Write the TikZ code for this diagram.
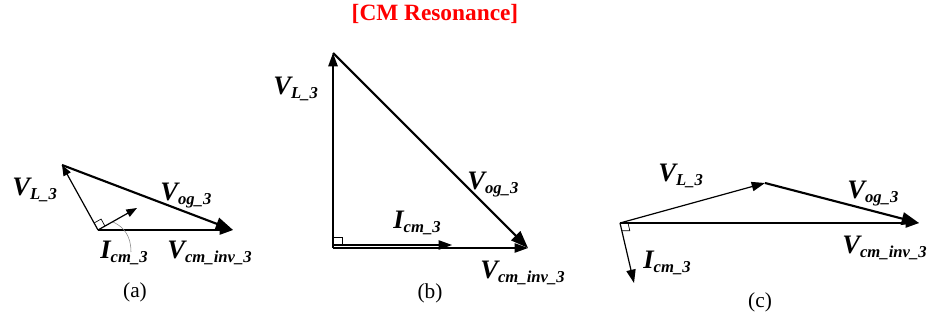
\documentclass[tikz,border=0pt]{standalone}
\usepackage{fontspec}
\setmainfont{Liberation Serif}
\usepackage{xcolor}
\usetikzlibrary{positioning, calc, arrows.meta}

\newcommand{\vname}[2]{#1\raisebox{-2.5pt}{\fontsize{12.5}{12.5}\selectfont #2}}

\tikzset{
  vec/.style={line width=0.9pt, -{Triangle[length=10pt,width=7pt]}},
  bigvec/.style={line width=1.6pt, -{Triangle[length=13pt,width=9.5pt]}},
  lbl/.style={anchor=base west, inner sep=0pt, font=\fontsize{20}{20}\selectfont\bfseries\itshape},
  partlbl/.style={font=\fontsize{16}{16}\selectfont},
  rmark/.style={line width=0.5pt}
}

\begin{document}
\begin{tikzpicture}[x=0.75pt, y=-0.75pt]
  \useasboundingbox (0,0) rectangle (930,323);

  \node[text=red, font=\fontsize{17.5}{17.5}\selectfont\bfseries] (title) at (435,14) {[CM Resonance]};

  % (a)
  \coordinate (Oa) at (98,230);
  \coordinate (La) at (62,165);
  \coordinate (Ca) at (233,230);
  \coordinate (Ia) at (137,208);
  \draw[vec] (Oa) -- (Ca);
  \draw[line width=0.9pt, -{Triangle[length=8pt,width=6pt]}] (Oa) -- (La);
  \draw[bigvec] (La) -- (Ca);
  \draw[line width=0.9pt, -{Triangle[length=8pt,width=6pt]}] (Oa) -- (Ia);
  \draw[rmark] ($(Oa)!6pt!(La)$) -- ($($(Oa)!6pt!(La)$)+($(Oa)!6pt!(Ia)$)-(Oa)$) -- ($(Oa)!6pt!(Ia)$);
  \node[lbl] (vla) at (12,196) {\vname{V}{L\_3}};
  \node[lbl] (voga) at (160,201) {\vname{V}{og\_3}};
  \node[lbl] (icma) at (100,259) {\vname{I}{cm\_3}};
  \node[lbl] (vcma) at (167,259) {\vname{V}{cm\_inv\_3}};
  \coordinate (arcend) at (113,222);
  \draw[gray, line width=0.4pt] (131,252) .. controls (131,236) and (124,227) .. (arcend);
  \node[partlbl] (capa) at (135,292) {(a)};

  % (b)
  \coordinate (Ob) at (333,248);
  \coordinate (Lb) at (333,53);
  \coordinate (Cb) at (528,248);
  \coordinate (Ib0) at (333,245);
  \coordinate (Ib) at (452,245);
  \draw[vec] (Ob) -- (Cb);
  \draw[vec] (Ib0) -- (Ib);
  \draw[vec, line width=1.2pt] (Ob) -- (Lb);
  \draw[bigvec] (Lb) -- (Cb);
  \draw[rmark] (333,237) -- (342,237) -- (342,245);
  \node[lbl] (vlb) at (273,95) {\vname{V}{L\_3}};
  \node[lbl] (vogb) at (467,190) {\vname{V}{og\_3}};
  \node[lbl] (icmb) at (393,229) {\vname{I}{cm\_3}};
  \node[lbl] (vcmb) at (480,279) {\vname{V}{cm\_inv\_3}};
  \node[partlbl] (capb) at (430,293) {(b)};

  % (c)
  \coordinate (Oc) at (620,223);
  \coordinate (Lc) at (765,183);
  \coordinate (Cc) at (919,223);
  \coordinate (Ic) at (634,283);
  \draw[vec] (Oc) -- (Cc);
  \draw[vec] (Oc) -- (Lc);
  \draw[bigvec] (Lc) -- (Cc);
  \draw[vec] (Oc) -- (Ic);
  \draw[rmark] ($(Oc)!6pt!(Cc)$) -- ($($(Oc)!6pt!(Cc)$)+($(Oc)!6pt!(Ic)$)-(Oc)$) -- ($(Oc)!6pt!(Ic)$);
  \node[lbl] (vlc) at (658,182) {\vname{V}{L\_3}};
  \node[lbl] (vogc) at (847,199) {\vname{V}{og\_3}};
  \node[lbl] (icmc) at (643,269) {\vname{I}{cm\_3}};
  \node[lbl] (vcmc) at (842,254) {\vname{V}{cm\_inv\_3}};
  \node[partlbl] (capc) at (760,302) {(c)};
\end{tikzpicture}
\end{document}
